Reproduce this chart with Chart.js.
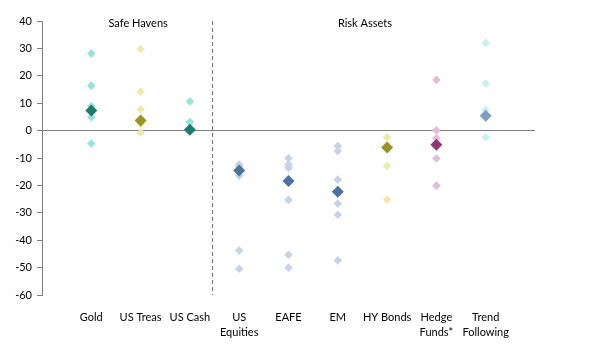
<!DOCTYPE html>
<html>
<head>
<meta charset="utf-8">
<script src="https://cdn.jsdelivr.net/npm/chart.js@4"></script>
<style>
  html, body { margin: 0; padding: 0; background: #fff; }
  #wrap { width: 590px; height: 356px; }
</style>
</head>
<body>
<div id="wrap"><canvas id="c" width="590" height="356"></canvas></div>
<script>
// ---- Data ----
const categories = [["Gold"], ["US Treas"], ["US Cash"], ["US", "Equities"], ["EAFE"], ["EM"], ["HY Bonds"], ["Hedge", "Funds*"], ["Trend", "Following"]];
const goldObs = [28.1, 16.4, 9.0, 4.9, -4.7];
const usTreasObs = [29.8, 14.2, 7.7, 2.4, -0.8];
const usCashObs = [10.6, 3.1, 0.0];
const usEquitiesObs = [-12.4, -13.1, -16.5, -43.8, -50.4];
const eafeObs = [-10.1, -12.4, -13.6, -25.3, -45.3, -50.0];
const emObs = [-5.6, -7.4, -17.9, -26.6, -30.7, -47.4];
const hyBondsObs = [-2.4, -12.9, -25.2];
const hedgeFundsObs = [18.5, 0.1, -2.8, -10.2, -20.1];
const trendObs = [32.0, 17.2, 7.6, -2.4];
const centralValues = [7.3, 3.7, 0.3, -14.6, -18.4, -22.3, -6.2, -5.2, 5.4];
const yTicks = [40, 30, 20, 10, 0, -10, -20, -30, -40, -50, -60];
const groupLabels = ["Safe Havens", "Risk Assets"];

// ---- Styling ----
const lightColors = ["#94E5DC", "#EEEAA9", "#94E5DC", "#C5D3E6", "#C5D3E6", "#C5D3E6", "#EEEAA9", "#E3BCD9", "#C9F1ED"];
const darkColors = ["#1D7B6E", "#9A9426", "#1D7B6E", "#4C72A0", "#4C72A0", "#4C72A0", "#9A9426", "#8A3A70", "#7E9DC5"];
const allObs = [goldObs, usTreasObs, usCashObs, usEquitiesObs, eafeObs, emObs, hyBondsObs, hedgeFundsObs, trendObs];

const lightPts = [], lightCols = [];
allObs.forEach((arr, i) => arr.forEach(v => { lightPts.push({ x: i + 1, y: v }); lightCols.push(lightColors[i]); }));
const darkPts = centralValues.map((v, i) => ({ x: i + 1, y: v }));

const dividerX = 3.46; // boundary between safe havens (1-3) and risk assets (4-9)
const FONT = "Lato, 'Liberation Sans', sans-serif";

const groupLabelPlugin = {
  id: 'groupLabels',
  afterDatasetsDraw(chart) {
    const { ctx, scales } = chart;
    ctx.save();
    ctx.font = "11px " + FONT;
    ctx.fillStyle = "#000";
    ctx.textAlign = "center";
    ctx.textBaseline = "middle";
    ctx.fillText(groupLabels[0], scales.x.getPixelForValue(1.95), scales.y.getPixelForValue(39.2));
    ctx.fillText(groupLabels[1], scales.x.getPixelForValue(6.55), scales.y.getPixelForValue(39.2));
    ctx.restore();
  }
};

new Chart(document.getElementById('c'), {
  type: 'scatter',
  data: {
    datasets: [
      {
        type: 'line',
        data: [{ x: dividerX, y: yTicks[0] }, { x: dividerX, y: yTicks[yTicks.length - 1] }],
        borderColor: '#6b6b6b', borderWidth: 1, borderDash: [4, 3],
        pointRadius: 0, fill: false, order: 3
      },
      {
        data: lightPts,
        pointStyle: 'rectRot', pointRadius: 4.3, pointHoverRadius: 4.3,
        backgroundColor: lightCols, borderColor: lightCols, pointBorderWidth: 0,
        order: 2
      },
      {
        data: darkPts,
        pointStyle: 'rectRot', pointRadius: 6, pointHoverRadius: 6,
        backgroundColor: darkColors, borderColor: darkColors, pointBorderWidth: 0,
        order: 1
      }
    ]
  },
  options: {
    responsive: false,
    animation: false,
    layout: { padding: { top: 21, right: 55, left: 0, bottom: 0 } },
    plugins: { legend: { display: false }, tooltip: { enabled: false } },
    scales: {
      x: {
        type: 'linear', min: 0, max: 10,
        afterBuildTicks: s => { s.ticks = categories.map((c, i) => ({ value: i + 1 })); },
        ticks: {
          autoSkip: false, maxRotation: 0, padding: 15,
          font: { family: FONT, size: 11, lineHeight: 1.36 }, color: '#000',
          callback: v => categories[v - 1]
        },
        grid: { display: false, drawTicks: false },
        border: { display: false },
        afterFit: s => { s.height = 61; }
      },
      y: {
        min: -60, max: 40,
        afterBuildTicks: s => { s.ticks = yTicks.map(v => ({ value: v })); },
        ticks: { padding: 5, font: { family: FONT, size: 11 }, color: '#000' },
        grid: {
          color: c => (c.tick && c.tick.value === 0) ? '#7f7f7f' : 'rgba(0,0,0,0)',
          tickColor: '#7f7f7f', tickLength: 5, drawTicks: true
        },
        border: { display: true, color: '#7f7f7f' },
        afterFit: s => { s.width = 42; }
      }
    }
  },
  plugins: [groupLabelPlugin]
});
</script>
</body>
</html>
